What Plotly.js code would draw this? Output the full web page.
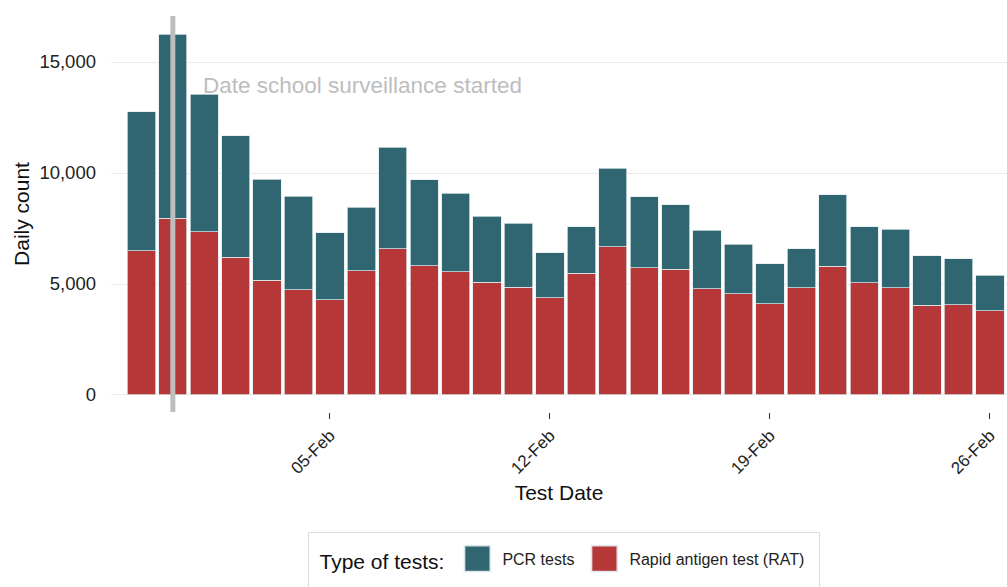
<!DOCTYPE html>
<html>
<head>
<meta charset="utf-8">
<script src="https://cdn.plot.ly/plotly-3.0.1.min.js"></script>
<style>html,body{margin:0;padding:0;background:#fff;}#chart{width:1007px;height:587px;}</style>
</head>
<body>
<div id="chart"></div>
<script>
const dates = ['2022-01-30','2022-01-31','2022-02-01','2022-02-02','2022-02-03','2022-02-04','2022-02-05',
  '2022-02-06','2022-02-07','2022-02-08','2022-02-09','2022-02-10','2022-02-11','2022-02-12',
  '2022-02-13','2022-02-14','2022-02-15','2022-02-16','2022-02-17','2022-02-18','2022-02-19',
  '2022-02-20','2022-02-21','2022-02-22','2022-02-23','2022-02-24','2022-02-25','2022-02-26'];
const ratTests = [6500,7960,7356,6216,5180,4743,4293,5586,6577,5824,5541,5068,4851,4383,
  5495,6667,5721,5662,4775,4550,4113,4833,5797,5059,4833,4041,4068,3797];
const pcrTests = [6248,8301,6189,5464,4536,4221,3018,2869,4581,3861,3545,2995,2883,2027,
  2086,3545,3198,2910,2644,2238,1801,1757,3226,2522,2631,2234,2072,1608];
const surveillanceStart = '2022-01-31';
const annotationText = 'Date school surveillance started';
const tickDates = ['2022-02-05','2022-02-12','2022-02-19','2022-02-26'];

const dayMs = 86400000;
const barW = dates.map(() => 0.9 * dayMs);
const lineStyle = {color: 'rgba(225,235,238,0.9)', width: 0.8};

const traces = [
  {type: 'bar', name: 'Rapid antigen test (RAT)', x: dates, y: ratTests, width: barW,
   marker: {color: '#b53737', line: lineStyle}},
  {type: 'bar', name: 'PCR tests', x: dates, y: pcrTests, width: barW,
   marker: {color: '#306672', line: lineStyle}}
];

const layout = {
  width: 1007, height: 587,
  margin: {l: 111, r: 0, t: 16, b: 175},
  paper_bgcolor: '#fff', plot_bgcolor: '#fff',
  barmode: 'stack',
  font: {family: 'Liberation Sans, Arial, sans-serif', color: '#222'},
  xaxis: {
    type: 'date',
    range: ['2022-01-29 00:47', '2022-02-26 13:00'],
    tickvals: tickDates,
    tickformat: '%d-%b',
    tickangle: -45,
    tickfont: {size: 17, color: '#222'},
    ticks: 'outside', ticklen: 6, tickcolor: '#333', tickwidth: 1,
    showgrid: false, zeroline: false, showline: false,
    title: {text: 'Test Date', font: {size: 21, color: '#111'}, standoff: 8}
  },
  yaxis: {
    range: [-766, 17072],
    tickvals: [0, 5000, 10000, 15000],
    tickformat: ',d',
    tickfont: {size: 18.5, color: '#222'},
    ticks: '', ticklabelstandoff: 14,
    showgrid: true, gridcolor: '#ebebeb', gridwidth: 1,
    zeroline: false, showline: false,
    title: {text: 'Daily count', font: {size: 21, color: '#111'}, standoff: 4}
  },
  showlegend: true,
  legend: {
    orientation: 'h', x: 0.505, xanchor: 'center', y: -0.325, yanchor: 'top',
    traceorder: 'reversed', itemwidth: 40,
    bordercolor: '#dddddd', borderwidth: 1,
    font: {size: 16, color: '#222'},
    title: {text: 'Type of tests:', font: {size: 21, color: '#111'}, side: 'left'}
  },
  shapes: [
    {type: 'line', xref: 'x', yref: 'paper', x0: surveillanceStart, x1: surveillanceStart,
     y0: 0, y1: 1, line: {color: '#bebebe', width: 5}, layer: 'above'}
  ],
  annotations: [
    {xref: 'x', yref: 'y', x: '2022-01-31 21:30', y: 13950, xanchor: 'left', yanchor: 'middle',
     text: annotationText, showarrow: false, font: {size: 22.5, color: '#bdbdbd'}}
  ]
};

Plotly.newPlot('chart', traces, layout, {displayModeBar: false, staticPlot: true}).then(gd => {
  gd.querySelectorAll('.legend .legendpoints path').forEach(p => {
    const t = p.getAttribute('transform') || '';
    p.setAttribute('transform', t + ' scale(2.15)');
  });
  const bg = gd.querySelector('.legend rect.bg');
  if (bg) {
    const x = parseFloat(bg.getAttribute('x')) || 0;
    const y = parseFloat(bg.getAttribute('y')) || 0;
    const w = parseFloat(bg.getAttribute('width'));
    const h = parseFloat(bg.getAttribute('height'));
    bg.setAttribute('x', x - 8);
    bg.setAttribute('y', y - 9);
    bg.setAttribute('width', w + 18);
    bg.setAttribute('height', h + 30);
  }
});
</script>
</body>
</html>
